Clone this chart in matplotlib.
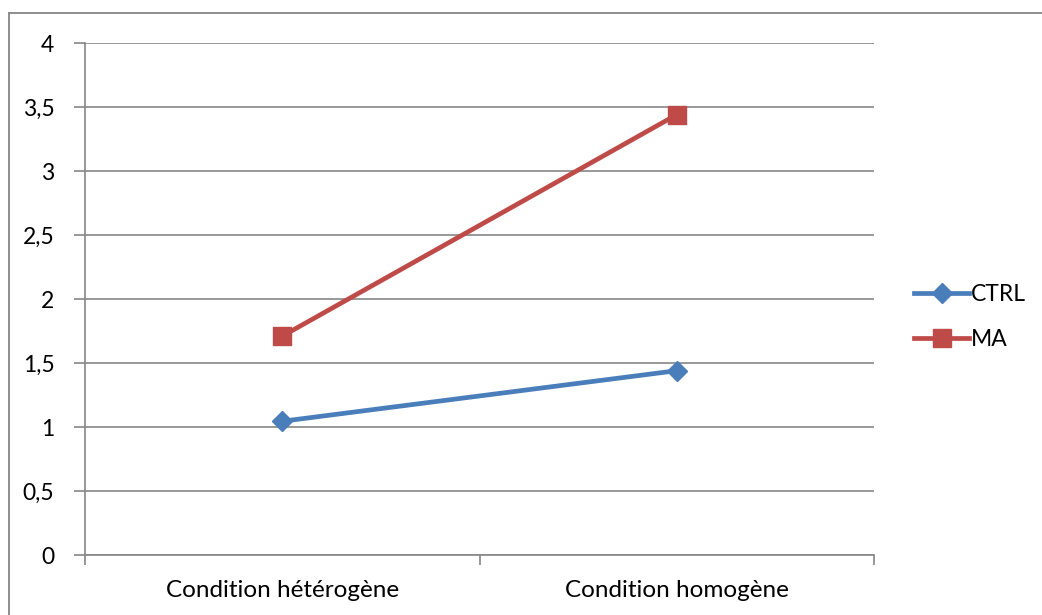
import matplotlib
matplotlib.use("Agg")
import matplotlib.pyplot as plt
from matplotlib.lines import Line2D

categories = ["Condition hétérogène", "Condition homogène"]
ctrl = [1.045, 1.44]
ma = [1.71, 3.44]
yticks = [0, 0.5, 1, 1.5, 2, 2.5, 3, 3.5, 4]
ytick_labels = ["0", "0,5", "1", "1,5", "2", "2,5", "3", "3,5", "4"]

plt.rcParams['font.family'] = ['Lato', 'DejaVu Sans']
W, H = 1042, 615
fig = plt.figure(figsize=(W / 100, H / 100), dpi=100)
ax = fig.add_axes([85 / W, (H - 555) / H, (874 - 85) / W, (555 - 43) / H])

grid_c = "#868686"
blue = "#4A7EBB"
red = "#BE4B48"
fs = 16.5
fsx = 17.5

x = list(range(len(categories)))
ax.plot(x, ctrl, color=blue, lw=3.4, marker="D", ms=10.5, mec=blue, mfc=blue, zorder=3, label="CTRL")
ax.plot(x, ma, color=red, lw=3.4, marker="s", ms=13, mec=red, mfc=red, zorder=3, label="MA")

ax.set_xlim(-0.5, len(categories) - 0.5)
ax.set_ylim(0, 4)
ax.set_yticks(yticks)
ax.set_yticklabels(ytick_labels, fontsize=fs)
ax.yaxis.grid(True, color=grid_c, lw=1.2)
ax.set_axisbelow(True)
ax.set_xticks([i - 0.5 for i in range(len(categories) + 1)])
ax.set_xticklabels([])
ax.set_xticks(x, minor=True)
ax.set_xticklabels(categories, minor=True, fontsize=fsx)
ax.tick_params(axis="x", which="minor", length=0, pad=18)
ax.tick_params(axis="x", which="major", length=7, width=1.2, color=grid_c, direction="out")
ax.tick_params(axis="y", length=8, width=1.2, color=grid_c, pad=14)
for s in ["top", "right"]:
    ax.spines[s].set_visible(False)
for s in ["left", "bottom"]:
    ax.spines[s].set_color(grid_c)
    ax.spines[s].set_linewidth(1.2)

handles = [Line2D([], [], color=blue, lw=3.4, marker="D", ms=10.5),
           Line2D([], [], color=red, lw=3.4, marker="s", ms=13)]
fig.legend(handles, ["CTRL", "MA"], loc="center left", bbox_to_anchor=(914 / W, 1 - 317 / H),
           frameon=False, fontsize=fs, handlelength=2.4, handletextpad=0.1, labelspacing=1.05,
           borderpad=0, borderaxespad=0)

# outer border
fig.add_artist(Line2D([9 / W, 9 / W], [0, 1 - 13 / H], color=grid_c, lw=1.3))
fig.add_artist(Line2D([9 / W, 1], [1 - 13 / H, 1 - 13 / H], color=grid_c, lw=1.3))

fig.savefig("out.png", dpi=100)
